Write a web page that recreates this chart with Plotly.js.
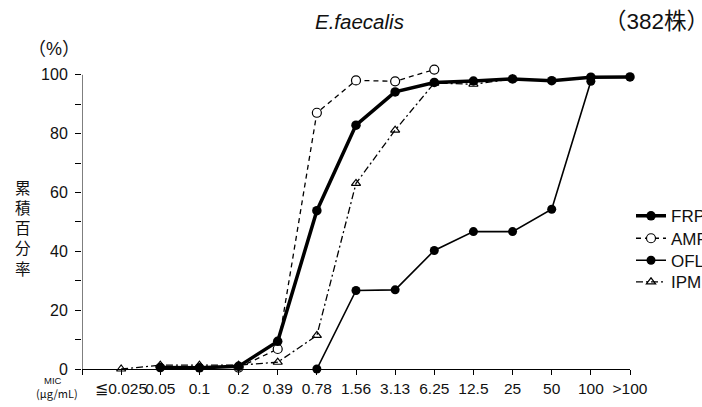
<!DOCTYPE html>
<html>
<head>
<meta charset="utf-8">
<script src="https://cdn.plot.ly/plotly-3.0.1.min.js"></script>
<style>
  html { overflow: hidden; }
  body { margin: 0; width: 702px; height: 407px; overflow: hidden; background: #fff; }
  #chart { width: 740px; height: 407px; }
</style>
</head>
<body>
<div id="chart"></div>
<script>
// MIC breakpoints (µg/mL)
const categories = ['≦0.025', '0.05', '0.1', '0.2', '0.39', '0.78', '1.56', '3.13', '6.25', '12.5', '25', '50', '100', '>100'];

// Cumulative percentage of strains inhibited at each MIC (null = not plotted)
const frpm = [null, 0.5, 0.4, 0.9, 9.4, 53.8, 82.9, 94.2, 97.4, 97.9, 98.6, 98.0, 99.2, 99.3];
const ampc = [null, null, null, 0.5, 6.8, 87.1, 98.1, 97.8, 101.8, null, null, null, null, null];
const oflx = [null, null, null, null, null, 0, 26.7, 26.9, 40.3, 46.7, 46.7, 54.3, 97.8, null];
const ipm  = [0, 1.3, 1.3, 1.3, 2.3, 11.4, 63.1, 81.2, 97.2, 96.8, 98.6, null, null, null];

const seriesNames = ['FRPM', 'AMPC', 'OFLX', 'IPM'];

const yTicks = [0, 10, 20, 30, 40, 50, 60, 70, 80, 90, 100];
const yTickText = ['0', '', '20', '', '40', '', '60', '', '80', '', '100'];

// plot-area geometry in pixels
const L = 82, T = 66, W = 548, H = 303, FIG_W = 740, FIG_H = 407;
const px = x => (x - L) / W;
const py = y => (T + H - y) / H;

const idx = categories.map((_, i) => i);
const pick = vals => {
  const xs = [], ys = [];
  vals.forEach((v, i) => { if (v !== null) { xs.push(idx[i]); ys.push(v); } });
  return { x: xs, y: ys };
};

const font = 'Liberation Sans, Arial, Helvetica, sans-serif';
const cjk = 'Liberation Sans, Noto Sans CJK JP, sans-serif';

// one legend per series so the rows can sit closely stacked
const traces = [
  Object.assign(pick(ipm), {
    name: seriesNames[3], legend: 'legend4', type: 'scatter', mode: 'lines+markers', cliponaxis: false,
    line: { color: '#000', width: 1.3, dash: '7px,3px,2px,3px' },
    marker: { symbol: 'triangle-up-open', size: 8, color: '#000', line: { width: 1.2, color: '#000' } }
  }),
  Object.assign(pick(oflx), {
    name: seriesNames[2], legend: 'legend3', type: 'scatter', mode: 'lines+markers', cliponaxis: false,
    line: { color: '#000', width: 1.6 },
    marker: { symbol: 'circle', size: 9, color: '#000' }
  }),
  Object.assign(pick(ampc), {
    name: seriesNames[1], legend: 'legend2', type: 'scatter', mode: 'lines+markers', cliponaxis: false,
    line: { color: '#000', width: 1.3, dash: '5px,4px' },
    marker: { symbol: 'circle', size: 9, color: '#fff', line: { width: 1.2, color: '#000' } }
  }),
  Object.assign(pick(frpm), {
    name: seriesNames[0], legend: 'legend', type: 'scatter', mode: 'lines+markers', cliponaxis: false,
    line: { color: '#000', width: 3.5 },
    marker: { symbol: 'circle', size: 9.5, color: '#000' }
  })
];

const legendRowCenters = [213.3, 235.7, 257.7, 279.3];
const legendBox = i => ({
  xref: 'container', yref: 'container',
  x: 631 / FIG_W, xanchor: 'left',
  y: 1 - (legendRowCenters[i] - 15) / FIG_H, yanchor: 'top',
  bgcolor: 'rgba(0,0,0,0)', borderwidth: 0,
  font: { family: font, size: 17, color: '#111' },
  itemwidth: 30
});

const layout = {
  width: FIG_W, height: FIG_H,
  margin: { l: L, r: FIG_W - L - W, t: T, b: FIG_H - T - H, autoexpand: false },
  paper_bgcolor: '#fff', plot_bgcolor: '#fff',
  showlegend: true,
  legend: legendBox(0),
  legend2: legendBox(1),
  legend3: legendBox(2),
  legend4: legendBox(3),
  xaxis: {
    range: [-1, 13], showgrid: false, zeroline: false,
    showline: true, linecolor: '#000', linewidth: 1,
    tickmode: 'array', tickvals: [-1].concat(idx), ticktext: [''].concat(categories),
    ticks: 'outside', ticklen: 5, tickcolor: '#000', tickwidth: 1,
    tickangle: 0,
    tickfont: { family: font, size: 15.5, color: '#111' }
  },
  yaxis: {
    range: [0, 103], showgrid: false, zeroline: false, showline: false,
    tickmode: 'array', tickvals: yTicks, ticktext: yTickText,
    ticks: 'outside', ticklen: 6, tickcolor: '#000', tickwidth: 1,
    ticklabelstandoff: 4,
    tickfont: { family: font, size: 16, color: '#111' }
  },
  shapes: [
    { type: 'line', xref: 'x', yref: 'y', x0: -1, x1: -1, y0: 0, y1: 100, line: { color: '#000', width: 1 } }
  ],
  annotations: [
    { text: '<i>E.faecalis</i>', xref: 'paper', yref: 'paper', x: px(359), y: py(21),
      showarrow: false, xanchor: 'center', yanchor: 'middle',
      font: { family: font, size: 20.5, color: '#111' } },
    { text: '（382株）', xref: 'paper', yref: 'paper', x: px(711), y: py(21),
      showarrow: false, xanchor: 'right', yanchor: 'middle',
      font: { family: cjk, size: 22.5, color: '#111' } },
    { text: '（%）', xref: 'paper', yref: 'paper', x: px(54), y: py(49.5),
      showarrow: false, xanchor: 'center', yanchor: 'middle',
      font: { family: cjk, size: 18, color: '#111' } },
    { text: 'MIC', xref: 'paper', yref: 'paper', x: px(53), y: py(380),
      showarrow: false, xanchor: 'center', yanchor: 'middle',
      font: { family: font, size: 9.5, color: '#111' } },
    { text: '(μg/mL)', xref: 'paper', yref: 'paper', x: px(57), y: py(393),
      showarrow: false, xanchor: 'center', yanchor: 'middle',
      font: { family: 'Noto Sans CJK JP, sans-serif', size: 11, color: '#111' } },
    { text: '累<br>積<br>百<br>分<br>率', xref: 'paper', yref: 'paper', x: px(22.5), y: py(227.5),
      showarrow: false, xanchor: 'center', yanchor: 'middle',
      font: { family: 'Noto Sans CJK JP, sans-serif', size: 15.5, color: '#111' } }
  ]
};

Plotly.newPlot('chart', traces, layout, { displayModeBar: false, staticPlot: true });
</script>
</body>
</html>
